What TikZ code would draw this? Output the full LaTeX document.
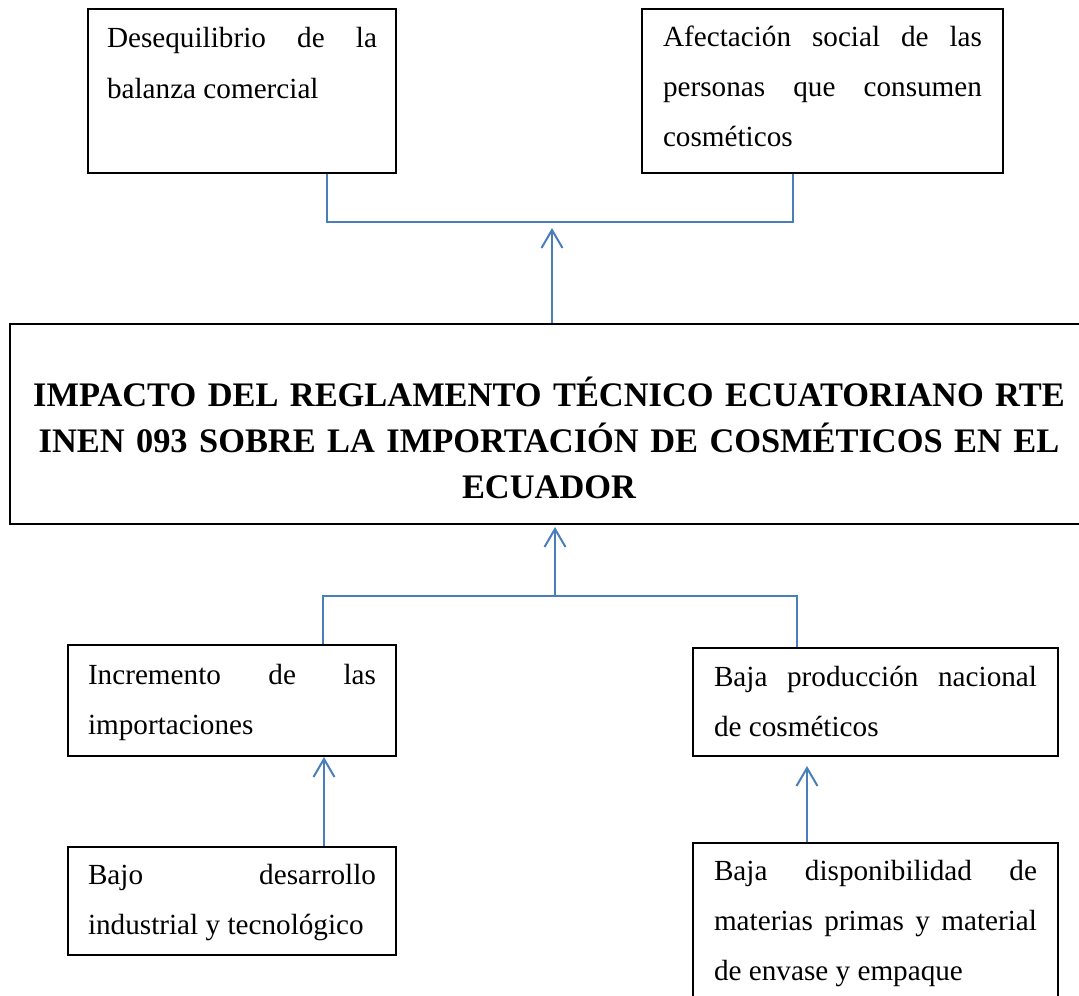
\documentclass[tikz,border=0pt]{standalone}
\usepackage{fontspec}
\setmainfont{Liberation Serif}
\usetikzlibrary{arrows.meta}
\definecolor{linkblue}{RGB}{74,126,187}
\hyphenpenalty=10000
\tolerance=10000

\begin{document}
\begin{tikzpicture}[x=0.5pt,y=-0.5pt,
	causa/.style={draw,line width=1pt,anchor=north west,inner ysep=0pt,align=justify,
		font=\fontsize{14.6}{25}\selectfont},
	enlace/.style={draw=linkblue,line width=1pt},
	flecha/.style={enlace,-{Straight Barb[length=9pt,width=10.5pt]}}]
\useasboundingbox (0,0) rectangle (1079,995);
\clip (0,0) rectangle (1079,995);

\node[causa,inner xsep=9.5pt,text width=135pt,text height=19.5pt,text depth=62.5pt] (desequilibrio) at (87,8)
	{Desequilibrio de la\linebreak balanza comercial};
\node[causa,inner xsep=10.5pt,text width=159.5pt,text height=18.75pt,text depth=63.25pt] (afectacion) at (641,8)
	{Afectación social de las\linebreak personas que consumen\linebreak cosméticos};

\node[draw,line width=1pt,anchor=north west,inner sep=0pt,text width=539pt,align=center,
	text height=41pt,text depth=59pt,font=\fontsize{17.2}{23}\selectfont\bfseries] (impacto) at (9,323)
	{IMPACTO DEL REGLAMENTO TÉCNICO ECUATORIANO RTE\\
	INEN 093 SOBRE LA IMPORTACIÓN DE COSMÉTICOS EN EL\\
	ECUADOR};

\node[causa,inner xsep=10pt,text width=144pt,text height=19.5pt,text depth=36pt] (incremento) at (67,644)
	{Incremento de las\linebreak importaciones};
\node[causa,inner xsep=10.5pt,text width=161.5pt,text height=19pt,text depth=35pt] (produccion) at (692,647)
	{Baja producción nacional\linebreak de cosméticos};
\node[causa,inner xsep=10pt,text width=144pt,text height=18.5pt,text depth=35.5pt] (desarrollo) at (67,846)
	{Bajo desarrollo\linebreak industrial y tecnológico};
\node[causa,inner xsep=10.5pt,text width=161.5pt,text height=18.5pt,text depth=70pt] (disponibilidad) at (692,842)
	{Baja disponibilidad de\linebreak materias primas y material\linebreak de envase y empaque};

\coordinate (efizq) at (327,222);
\coordinate (efder) at (793,222);
\coordinate (efpunta) at (552,228);
\draw[enlace] (desequilibrio.south -| efizq) -- (efizq) -- (efder) -- (afectacion.south -| efder);
\draw[flecha] (impacto.north -| efpunta) -- (efpunta);

\coordinate (caizq) at (323,596);
\coordinate (cader) at (797,596);
\coordinate (cacentro) at (555,596);
\coordinate (capunta) at (555,527);
\draw[enlace] (incremento.north -| caizq) -- (caizq) -- (cader) -- (produccion.north -| cader);
\draw[flecha] (cacentro) -- (capunta);

\coordinate (ipunta) at (324,757);
\draw[flecha] (desarrollo.north -| ipunta) -- (ipunta);
\coordinate (ppunta) at (807,766);
\draw[flecha] (disponibilidad.north -| ppunta) -- (ppunta);
\end{tikzpicture}
\end{document}
